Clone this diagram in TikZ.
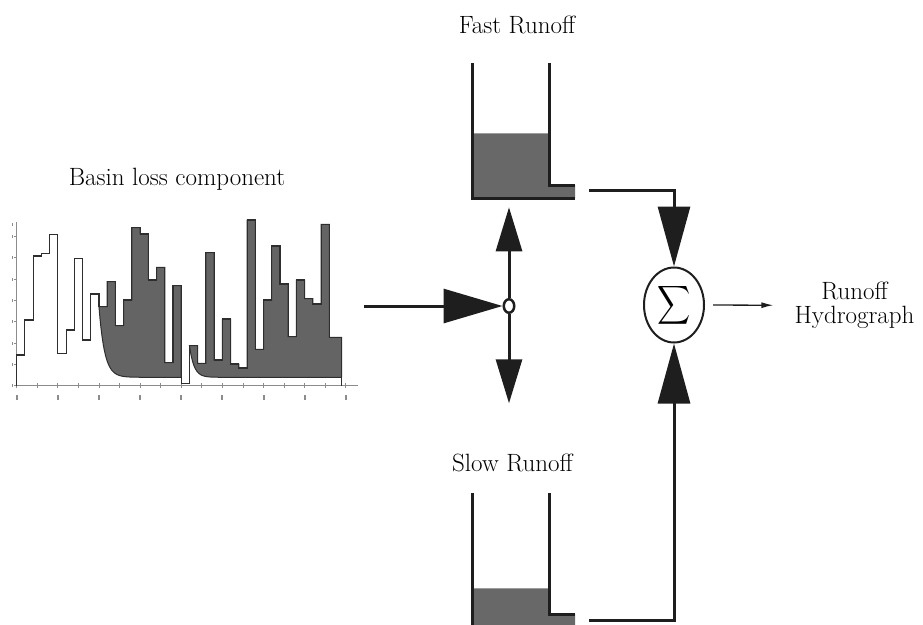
\documentclass[tikz,border=0pt]{standalone}
\usepackage{fontspec}
\usepackage{graphicx}
\usetikzlibrary{arrows.meta,shapes.geometric}
\definecolor{ink}{HTML}{1E1E1E}
\definecolor{water}{HTML}{686868}
\definecolor{barfill}{HTML}{646464}
\definecolor{barline}{HTML}{2E2E2E}
\definecolor{axisgray}{HTML}{8C8C8C}
\begin{document}
\begin{tikzpicture}[x=1pt,y=-1pt,
  lbl/.style={font=\fontsize{25}{23.5}\selectfont, inner sep=0pt},
  wall/.style={line width=3pt, draw=ink},
  flow/.style={line width=3pt, draw=ink},
  bighead/.style={-{Triangle[length=60pt,width=32pt]}},
  midhead/.style={-{Triangle[length=44pt,width=26pt]}},
  barpath/.style={line width=1.1pt, draw=barline, line join=miter},
  axisline/.style={line width=0.8pt, draw=axisgray},
  junction/.style={draw=ink, line width=2.5pt, ellipse, minimum width=10.5pt, minimum height=13.5pt, inner sep=0pt},
  sumnode/.style={draw=ink, line width=2pt, ellipse, minimum width=60pt, minimum height=75pt, inner sep=0pt}
]
\useasboundingbox (0,0) rectangle (923,624);
\clip (0,0) rectangle (923,624);

% ---------------- chart ----------------
\begin{scope}[xshift=16.7pt, x=8.227pt]
  % fills
  \fill[barfill, draw=barline, line width=1pt] (10,306.7)
    \foreach \h [count=\i from 10] in {306.7,281.7,325.7,300.0,227.7,234.0,280.0,267.3,362.7,285.7}
      { -- (\i,\h) -- (\i+1,\h) }
    -- (20,377.3) -- plot[domain=20:10,samples=80] (\x,{377.3-70.6*exp(-1.47*(\x-10))}) -- cycle;
  \fill[barfill, draw=barline, line width=1pt] (21,345.7)
    \foreach \h [count=\i from 21] in {345.7,363.3,252.7,360.0,319.0,364.0,368.0,220.0,349.3,300.0,246.0,284.0,336.7,280.0,298.7,304.0,224.3}
      { -- (\i,\h) -- (\i+1,\h) }
    -- (38,337.3) -- (39.5,337.3) -- (39.5,377.3)
    -- plot[domain=39.5:21,samples=100] (\x,{377.3-31.6*exp(-1.83*(\x-21))}) -- cycle;
  % axes
  \draw[axisline] (0,221.7) -- (0,385.7) -- (41.5,385.7);
  \foreach \k in {0,2.5,...,40} \draw[axisline] (\k,383.2) -- (\k,388.2);
  \foreach \k in {0,5,...,40} \fill[axisgray] (\k-0.12,394.5) rectangle (\k+0.12,399.5);
  \foreach \m in {0,...,7} {
    \draw[axisline] (-0.3,385.7-21.33*\m) -- (0,385.7-21.33*\m);
    \fill[axisgray] (-0.6,384.2-21.33*\m) rectangle (-0.4,387.2-21.33*\m);
  }
  \fill[axisgray] (-0.6,222.5) rectangle (-0.4,225.5);
  % step outline
  \draw[barpath] (0,385.7)
    \foreach \h [count=\i from 0] in {355.0,320.0,256.0,253.3,234.3,353.3,330.0,258.3,340.0,294.0,306.7,281.7,325.7,300.0,227.7,234.0,280.0,267.3,362.7,285.7,383.3,345.7,363.3,252.7,360.0,319.0,364.0,368.0,220.0,349.3,300.0,246.0,284.0,336.7,280.0,298.7,304.0,224.3}
      { -- (\i,\h) -- (\i+1,\h) }
    -- (38,337.3) -- (39.5,337.3) -- (39.5,385.7);
\end{scope}

% ---------------- tanks ----------------
\fill[water] (472.3,133.3) -- (549.3,133.3) -- (549.3,185) -- (575,185) -- (575,198.3) -- (472.3,198.3) -- cycle;
\draw[wall] (472.3,63.3) -- (472.3,198.3) -- (575,198.3);
\draw[wall] (549.3,63.3) -- (549.3,185) -- (575,185);

\fill[water] (472.3,588.3) -- (549.3,588.3) -- (549.3,614) -- (575,614) -- (575,627.3) -- (472.3,627.3) -- cycle;
\draw[wall] (472.3,493.3) -- (472.3,627.3) -- (575,627.3);
\draw[wall] (549.3,493.3) -- (549.3,614) -- (575,614);

% ---------------- labels ----------------
\node[lbl, anchor=base] (fastlbl) at (517,33.3) {Fast Runoff};
\node[lbl, anchor=base] (slowlbl) at (512.5,471.7) {Slow Runoff};
\node[lbl, anchor=base] (basinlbl) at (177,185) {Basin loss component};
\node[lbl, align=center] (out) at (854.5,305.3) {Runoff\\Hydrograph};

% ---------------- nodes ----------------
\node[junction] (j) at (509,306) {};
\node[sumnode] (sum) at (674,305) {\scalebox{2.3}[2.7]{$\displaystyle\sum$}};

\coordinate (mainstart) at (364.3,306);
\coordinate (fastin) at (509,207.3);
\coordinate (downend) at (509,403.3);
\coordinate (fastout) at (589,190.7);
\coordinate (fastbend) at (674,190.7);
\coordinate (slowout) at (589,620.7);
\coordinate (slowbend) at (674,620.7);

% ---------------- connectors ----------------
\draw[flow, -{Triangle[length=59pt,width=34pt]}] (mainstart) -- (j.west);
\draw[flow, midhead] (j.north) -- (fastin);
\draw[flow, midhead] (j.south) -- (downend);
\draw[flow, bighead] (fastout) -- (fastbend) -- (sum.north);
\draw[flow, bighead] (slowout) -- (slowbend) -- (sum.south);
\draw[line width=1.3pt, draw=ink, -{Latex[length=12pt,width=6pt]}, shorten <=8pt, shorten >=21pt] (sum.east) -- (out.west);
\end{tikzpicture}
\end{document}
